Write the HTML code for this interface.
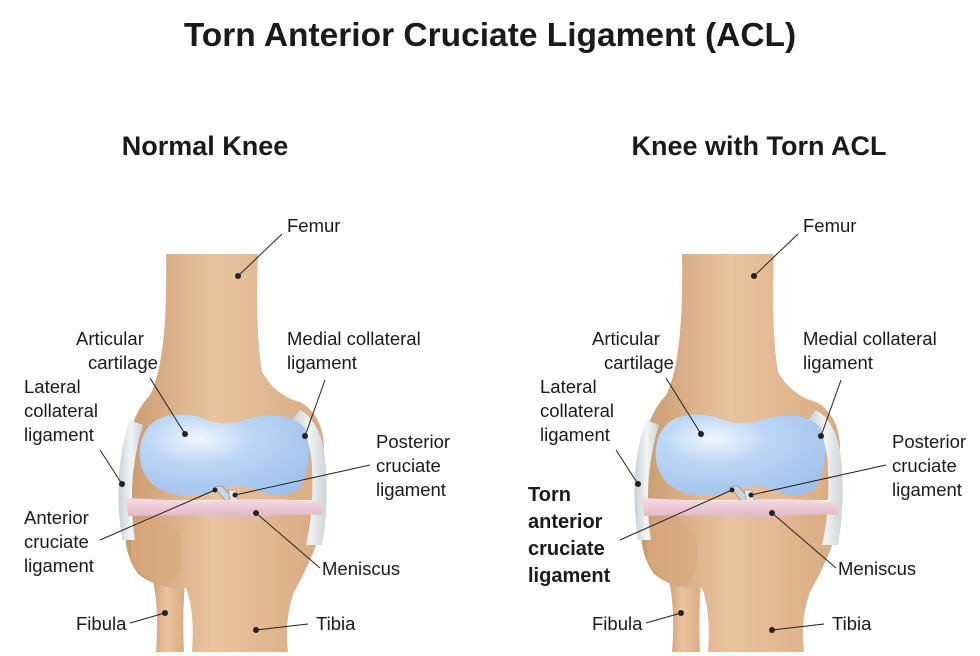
<!DOCTYPE html>
<html><head><meta charset="utf-8"><style>
body{margin:0;background:#fff}
svg{display:block}
text{font-family:"Liberation Sans",sans-serif;font-size:18.5px;fill:#1a1a1a}
.t{font-weight:bold}
</style></head><body>
<svg width="980" height="656" viewBox="0 0 980 656" xmlns="http://www.w3.org/2000/svg">
<defs>
<linearGradient id="bone" x1="0" x2="1" y1="0" y2="0">
<stop offset="0" stop-color="#c99a70"/><stop offset="0.45" stop-color="#e9c49f"/><stop offset="1" stop-color="#d9ab82"/></linearGradient>
<radialGradient id="blue" cx="0.35" cy="0.3" r="0.8">
<stop offset="0" stop-color="#eef5ff"/><stop offset="0.4" stop-color="#bcd6f5"/><stop offset="1" stop-color="#9fc1ec"/></radialGradient>
<linearGradient id="lig" x1="0" x2="1"><stop offset="0" stop-color="#c9cfd3"/><stop offset="0.5" stop-color="#f2f4f5"/><stop offset="1" stop-color="#cdd3d6"/></linearGradient>
<linearGradient id="pink" x1="0" x2="0" y1="0" y2="1"><stop offset="0" stop-color="#f6dde6"/><stop offset="1" stop-color="#e2b5c5"/></linearGradient>
<g id="knee">
 <path d="M150 570 Q160 600 156 652 L184 652 Q182 610 186 570 Z" fill="url(#bone)"/>
 <path d="M126 520 Q124 505 140 508 L314 508 Q324 512 320 535 Q308 568 294 592 Q284 620 288 652 L192 652 Q195 612 186 588 Q158 590 138 574 Q122 552 126 520 Z" fill="url(#bone)"/>
 <path d="M130 525 Q155 512 178 532 Q188 562 172 584 Q145 582 132 562 Z" fill="#d8a97e" opacity="0.7"/>
 <path d="M166 254 L258 254 Q255 330 262 372 Q276 396 300 402 Q322 414 324 445 L324 500 L124 500 L126 455 Q130 416 150 395 Q168 360 166 254 Z" fill="url(#bone)"/>
 <path d="M130 420 Q112 470 122 540 L135 540 Q126 480 143 425 Z" fill="url(#lig)"/>
 <path d="M292 420 Q312 435 312 470 Q314 510 306 545 L322 545 Q330 500 324 450 Q318 420 300 410 Z" fill="url(#lig)"/>
 <path d="M150 425 Q165 410 200 417 Q222 428 245 420 Q285 408 305 428 Q315 460 300 488 Q285 500 262 492 Q246 485 232 486 Q210 495 185 496 Q145 492 140 460 Q138 438 150 425 Z" fill="url(#blue)"/>
 <path d="M214 487 L222 486 L236 502 L228 504 Z" fill="#d0d4d8" stroke="#888" stroke-width="0.6"/>
 <path d="M228 490 L236 490 L238 504 L231 504 Z" fill="#e4e7ea" stroke="#888" stroke-width="0.6"/>
 <path d="M126 498 Q200 502 230 500 Q280 497 322 503 L322 515 Q280 513 255 518 Q200 514 128 516 Z" fill="url(#pink)"/>
 <g stroke="#222" stroke-width="1" fill="none">
  <line x1="238" y1="276" x2="282" y2="234"/>
  <line x1="185" y1="434" x2="150" y2="378"/>
  <line x1="305" y1="436" x2="325" y2="380"/>
  <line x1="122" y1="484" x2="100" y2="450"/>
  <line x1="235" y1="495" x2="370" y2="465"/>
  <line x1="256" y1="513" x2="320" y2="568"/>
  <line x1="256" y1="630" x2="308" y2="624"/>
  <line x1="165" y1="613" x2="130" y2="623"/>
 </g>
 <g fill="#222">
  <circle cx="238" cy="276" r="3"/><circle cx="185" cy="434" r="3"/><circle cx="305" cy="436" r="3"/>
  <circle cx="122" cy="484" r="3"/><circle cx="235" cy="495" r="2.5"/><circle cx="256" cy="513" r="3"/>
  <circle cx="256" cy="630" r="3"/><circle cx="165" cy="613" r="3"/>
 </g>
 <text x="287" y="232">Femur</text>
 <text x="76" y="345">Articular</text><text x="88" y="369">cartilage</text>
 <text x="287" y="345">Medial collateral</text><text x="287" y="369">ligament</text>
 <text x="24" y="393">Lateral</text><text x="24" y="417">collateral</text><text x="24" y="441">ligament</text>
 <text x="376" y="448">Posterior</text><text x="376" y="472">cruciate</text><text x="376" y="496">ligament</text>
 <text x="322" y="575">Meniscus</text>
 <text x="316" y="630">Tibia</text>
 <text x="76" y="630">Fibula</text>
</g>
</defs>
<text x="490" y="46" text-anchor="middle" class="t" style="font-size:33.5px">Torn Anterior Cruciate Ligament (ACL)</text>
<text x="205" y="155" text-anchor="middle" class="t" style="font-size:27px">Normal Knee</text>
<text x="759" y="155" text-anchor="middle" class="t" style="font-size:27px">Knee with Torn ACL</text>
<use href="#knee"/>
<line x1="215" y1="490" x2="100" y2="540" stroke="#222"/><circle cx="215" cy="490" r="2.5" fill="#222"/>
<text x="24" y="524">Anterior</text><text x="24" y="548">cruciate</text><text x="24" y="572">ligament</text>
<use href="#knee" transform="translate(516,0)"/>
<line x1="732" y1="490" x2="620" y2="540" stroke="#222"/><circle cx="732" cy="490" r="2.5" fill="#222"/>
<text x="528" y="501" class="t" style="font-size:20px">Torn</text>
<text x="528" y="528" class="t" style="font-size:20px">anterior</text>
<text x="528" y="555" class="t" style="font-size:20px">cruciate</text>
<text x="528" y="582" class="t" style="font-size:20px">ligament</text>
</svg>
</body></html>
